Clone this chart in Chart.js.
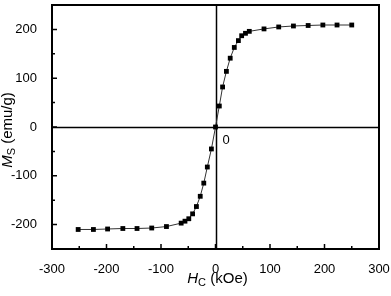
<!DOCTYPE html>
<html><head><meta charset="utf-8">
<script src="https://cdn.jsdelivr.net/npm/chart.js@4.4.0/dist/chart.umd.min.js"></script>
<style>html,body{margin:0;padding:0;background:#fff;}canvas{display:block;}</style>
</head><body>
<canvas id="c" width="391" height="296"></canvas>
<script>
const fieldH = [-252,-224,-198,-170,-144,-117,-90,-63,-56,-49,-42,-35,-28,-21.5,-15,-7.5,0,7,13,20,27,34.5,42,48,55,62,89,116,143,170,197,223,250];
const magM = [-210,-210,-209,-208,-208,-207,-204,-197,-193,-188,-178,-163,-142,-115,-82,-45,0,43,82,114,141,163,177,187,192,196,201,205,207,208,209,209,209];
const xTicks = [-300,-200,-100,0,100,200,300];
const yTicks = [-200,-100,0,100,200];
const xMinor = [-250,-150,-50,50,150,250];
const yMinor = [-150,-50,50,150];
const FONT = "'Liberation Sans', Arial, sans-serif";

const deco = {
  id:'deco',
  beforeDatasetsDraw(chart){
    const {ctx, chartArea:a, scales:{x,y}} = chart;
    ctx.save();
    ctx.strokeStyle='#000'; ctx.lineWidth=1.5;
    const x0 = Math.round(x.getPixelForValue(0))+0.5, y0 = Math.round(y.getPixelForValue(0))+0.5;
    ctx.beginPath(); ctx.moveTo(x0,a.top); ctx.lineTo(x0,a.bottom); ctx.stroke();
    ctx.beginPath(); ctx.moveTo(a.left,y0); ctx.lineTo(a.right,y0); ctx.stroke();
    ctx.restore();
  },
  afterDraw(chart){
    const {ctx, chartArea:a, scales:{x,y}} = chart;
    ctx.save();
    ctx.strokeStyle='#000'; ctx.lineWidth=2;
    ctx.strokeRect(a.left,a.top,a.right-a.left,a.bottom-a.top);
    ctx.lineWidth=1.5;
    ctx.beginPath();
    xTicks.forEach(v=>{const p=x.getPixelForValue(v); ctx.moveTo(p,a.bottom); ctx.lineTo(p,a.bottom-5);});
    xMinor.forEach(v=>{const p=x.getPixelForValue(v); ctx.moveTo(p,a.bottom); ctx.lineTo(p,a.bottom-3);});
    yTicks.forEach(v=>{const p=y.getPixelForValue(v); ctx.moveTo(a.left,p); ctx.lineTo(a.left+5,p);});
    yMinor.forEach(v=>{const p=y.getPixelForValue(v); ctx.moveTo(a.left,p); ctx.lineTo(a.left+3,p);});
    ctx.stroke();
    ctx.fillStyle='#000';
    ctx.font = "13px "+FONT; ctx.textAlign='left'; ctx.textBaseline='alphabetic';
    ctx.fillText('0', x.getPixelForValue(0)+7, y.getPixelForValue(0)+17);
    const cx = (a.left+a.right)/2;
    ctx.font = "italic 15px "+FONT;
    const wH = ctx.measureText('H').width;
    ctx.font = "11px "+FONT;
    const wC = ctx.measureText('C').width;
    ctx.font = "15px "+FONT;
    const wR = ctx.measureText(' (kOe)').width;
    let sx = cx - (wH+wC+wR)/2 + 2, by = 283;
    ctx.font = "italic 15px "+FONT; ctx.fillText('H', sx, by); sx+=wH;
    ctx.font = "11px "+FONT; ctx.fillText('C', sx, by+3); sx+=wC;
    ctx.font = "15px "+FONT; ctx.fillText(' (kOe)', sx, by);
    ctx.translate(12, 130); ctx.rotate(-Math.PI/2);
    ctx.font = "italic 15px "+FONT;
    const wM = ctx.measureText('M').width;
    ctx.font = "11px "+FONT;
    const wS = ctx.measureText('S').width;
    ctx.font = "15px "+FONT;
    const wU = ctx.measureText(' (emu/g)').width;
    let tx = -(wM+wS+wU)/2;
    ctx.font = "italic 15px "+FONT; ctx.fillText('M', tx, 0); tx+=wM;
    ctx.font = "11px "+FONT; ctx.fillText('S', tx, 3); tx+=wS;
    ctx.font = "15px "+FONT; ctx.fillText(' (emu/g)', tx, 0);
    ctx.restore();
  }
};

new Chart(document.getElementById('c'), {
  type:'scatter',
  data:{datasets:[{
    data: fieldH.map((h,i)=>({x:h,y:magM[i]})),
    showLine:true, borderColor:'#333', borderWidth:1,
    pointStyle:'rect', pointRadius:3.4, pointBackgroundColor:'#000', pointBorderColor:'#000', pointBorderWidth:0
  }]},
  options:{
    responsive:false, animation:false, devicePixelRatio:1,
    layout:{padding:{left:0,top:5,right:12,bottom:0}},
    plugins:{legend:{display:false}, tooltip:{enabled:false}},
    scales:{
      x:{type:'linear', min:-300, max:300,
        afterBuildTicks:s=>{s.ticks = xTicks.map(v=>({value:v}));},
        afterFit:s=>{s.height=47; s.paddingLeft=0; s.paddingRight=0;},
        grid:{display:false}, border:{display:false},
        ticks:{padding:5, color:'#000', font:{family:FONT,size:13}, maxRotation:0}},
      y:{type:'linear', min:-250, max:250,
        afterBuildTicks:s=>{s.ticks = yTicks.map(v=>({value:v}));},
        afterFit:s=>{s.width=52; s.paddingTop=0; s.paddingBottom=0;},
        grid:{display:false}, border:{display:false},
        ticks:{padding:7, color:'#000', font:{family:FONT,size:13}}}
    }
  },
  plugins:[deco]
});
</script>
</body></html>
